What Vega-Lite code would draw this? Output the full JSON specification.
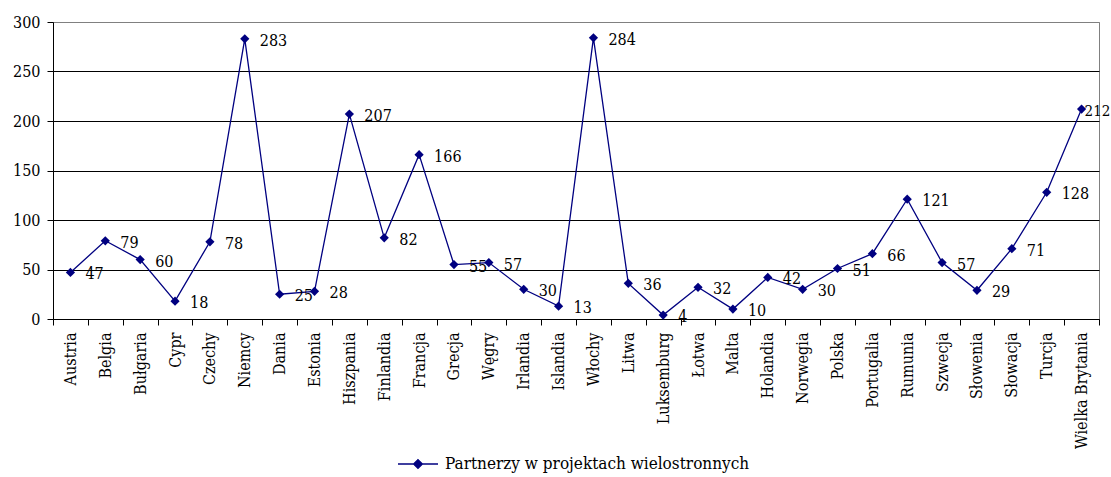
{
  "$schema": "https://vega.github.io/schema/vega-lite/v6.json",
  "autosize": "none",
  "width": 1046,
  "height": 297,
  "padding": {"left": 53, "top": 22, "right": 12, "bottom": 158},
  "background": "white",
  "config": {
    "view": {"stroke": "#808080", "strokeWidth": 1},
    "font": "'DejaVu Serif Condensed', 'DejaVu Serif', serif"
  },
  "data": {
    "values": [
      {"kraj": "Austria", "v": 47, "seria": "Partnerzy w projektach wielostronnych"},
      {"kraj": "Belgia", "v": 79, "seria": "Partnerzy w projektach wielostronnych"},
      {"kraj": "Bułgaria", "v": 60, "seria": "Partnerzy w projektach wielostronnych"},
      {"kraj": "Cypr", "v": 18, "seria": "Partnerzy w projektach wielostronnych"},
      {"kraj": "Czechy", "v": 78, "seria": "Partnerzy w projektach wielostronnych"},
      {"kraj": "Niemcy", "v": 283, "seria": "Partnerzy w projektach wielostronnych"},
      {"kraj": "Dania", "v": 25, "seria": "Partnerzy w projektach wielostronnych"},
      {"kraj": "Estonia", "v": 28, "seria": "Partnerzy w projektach wielostronnych"},
      {"kraj": "Hiszpania", "v": 207, "seria": "Partnerzy w projektach wielostronnych"},
      {"kraj": "Finlandia", "v": 82, "seria": "Partnerzy w projektach wielostronnych"},
      {"kraj": "Francja", "v": 166, "seria": "Partnerzy w projektach wielostronnych"},
      {"kraj": "Grecja", "v": 55, "seria": "Partnerzy w projektach wielostronnych"},
      {"kraj": "Węgry", "v": 57, "seria": "Partnerzy w projektach wielostronnych"},
      {"kraj": "Irlandia", "v": 30, "seria": "Partnerzy w projektach wielostronnych"},
      {"kraj": "Islandia", "v": 13, "seria": "Partnerzy w projektach wielostronnych"},
      {"kraj": "Włochy", "v": 284, "seria": "Partnerzy w projektach wielostronnych"},
      {"kraj": "Litwa", "v": 36, "seria": "Partnerzy w projektach wielostronnych"},
      {"kraj": "Luksemburg", "v": 4, "seria": "Partnerzy w projektach wielostronnych"},
      {"kraj": "Łotwa", "v": 32, "seria": "Partnerzy w projektach wielostronnych"},
      {"kraj": "Malta", "v": 10, "seria": "Partnerzy w projektach wielostronnych"},
      {"kraj": "Holandia", "v": 42, "seria": "Partnerzy w projektach wielostronnych"},
      {"kraj": "Norwegia", "v": 30, "seria": "Partnerzy w projektach wielostronnych"},
      {"kraj": "Polska", "v": 51, "seria": "Partnerzy w projektach wielostronnych"},
      {"kraj": "Portugalia", "v": 66, "seria": "Partnerzy w projektach wielostronnych"},
      {"kraj": "Rumunia", "v": 121, "seria": "Partnerzy w projektach wielostronnych"},
      {"kraj": "Szwecja", "v": 57, "seria": "Partnerzy w projektach wielostronnych"},
      {"kraj": "Słowenia", "v": 29, "seria": "Partnerzy w projektach wielostronnych"},
      {"kraj": "Słowacja", "v": 71, "seria": "Partnerzy w projektach wielostronnych"},
      {"kraj": "Turcja", "v": 128, "seria": "Partnerzy w projektach wielostronnych"},
      {"kraj": "Wielka Brytania", "v": 212, "seria": "Partnerzy w projektach wielostronnych"}
    ]
  },
  "encoding": {
    "x": {
      "field": "kraj",
      "type": "nominal",
      "sort": null,
      "bandPosition": 0.5,
      "scale": {"type": "band", "paddingInner": 0, "paddingOuter": 0},
      "axis": {
        "title": null,
        "labelAngle": -90,
        "labelFontSize": 16,
        "labelColor": "black",
        "labelPadding": 7,
        "tickBand": "extent",
        "tickSize": 6,
        "tickColor": "black",
        "domainColor": "black",
        "grid": false
      }
    },
    "y": {
      "field": "v",
      "type": "quantitative",
      "scale": {"domain": [0, 300], "nice": false},
      "axis": {
        "title": null,
        "values": [0, 50, 100, 150, 200, 250, 300],
        "labelFontSize": 16,
        "labelColor": "black",
        "labelPadding": 7,
        "tickSize": 6,
        "tickColor": "black",
        "domainColor": "black",
        "grid": true,
        "gridColor": {"condition": {"test": "datum.value === 300", "value": "#808080"}, "value": "black"},
        "gridOpacity": 1
      }
    }
  },
  "layer": [
    {
      "mark": {
        "type": "line",
        "strokeWidth": 1.3,
        "point": {"shape": "diamond", "filled": true, "size": 85, "color": "#000080"}
      },
      "encoding": {
        "color": {
          "field": "seria",
          "type": "nominal",
          "scale": {"range": ["#000080"]},
          "legend": {
            "title": null,
            "orient": "none",
            "legendX": 344,
            "legendY": 421,
            "padding": 0,
            "symbolType": "M-1,0L1,0M0,-0.22L0.22,0L0,0.22L-0.22,0Z",
            "symbolSize": 1600,
            "symbolStrokeWidth": 1.3,
            "symbolFillColor": "#000080",
            "symbolStrokeColor": "#000080",
            "labelFontSize": 17,
            "labelColor": "black",
            "labelOffset": 6,
            "labelLimit": 500
          }
        }
      }
    },
    {
      "transform": [{"filter": "datum.kraj !== 'Wielka Brytania'"}],
      "mark": {
        "type": "text",
        "align": "left",
        "baseline": "middle",
        "dx": 15,
        "dy": 2,
        "fontSize": 16,
        "color": "black"
      },
      "encoding": {
        "text": {"field": "v", "type": "quantitative"}
      }
    },
    {
      "transform": [{"filter": "datum.kraj === 'Wielka Brytania'"}],
      "mark": {
        "type": "text",
        "align": "left",
        "baseline": "middle",
        "dx": 3,
        "dy": 2,
        "fontSize": 15,
        "color": "black"
      },
      "encoding": {
        "text": {"field": "v", "type": "quantitative"}
      }
    }
  ]
}
